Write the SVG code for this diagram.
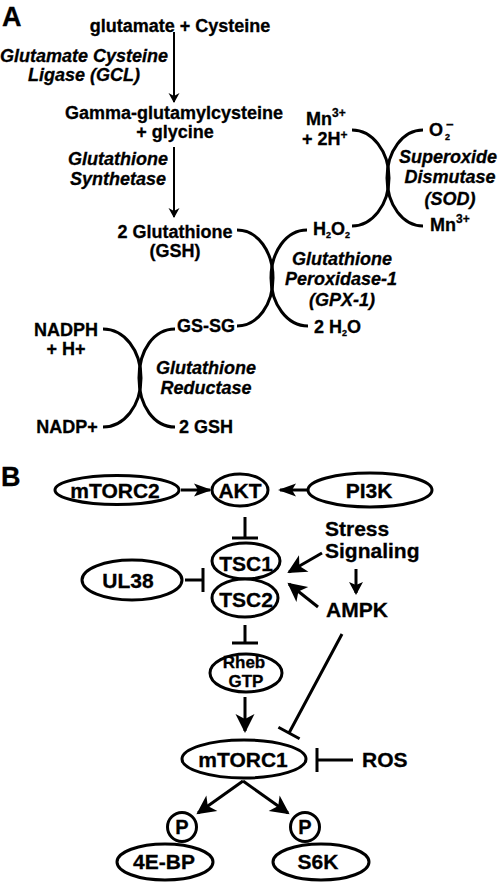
<svg xmlns="http://www.w3.org/2000/svg" width="500" height="883" viewBox="0 0 500 883">
<style>
text{font-family:"Liberation Sans",Arial,Helvetica,sans-serif;font-weight:bold;fill:#000;stroke:#000;stroke-width:0.3}
.a{font-size:18px}
.i{font-style:italic}
.b{font-size:21px}
.L{font-size:27px}
.c{text-anchor:middle}
.ln{stroke:#000;stroke-width:3;fill:none}
.thin{stroke:#000;stroke-width:2;fill:none}
.el{fill:#fff;stroke:#000;stroke-width:3}
</style>
<defs>
<marker id="ha" markerUnits="userSpaceOnUse" viewBox="-12 -7 14 14" refX="0" refY="0" markerWidth="14" markerHeight="14" orient="auto"><path d="M1,0 L-9,-5.5 L-6,0 L-9,5.5 z" fill="#000"/></marker>
<marker id="hb" markerUnits="userSpaceOnUse" viewBox="-20 -11 24 22" refX="0" refY="0" markerWidth="24" markerHeight="22" orient="auto"><path d="M2,0 L-17,-9.5 L-12,0 L-17,9.5 z" fill="#000"/></marker>
<marker id="hs" markerUnits="userSpaceOnUse" viewBox="-20 -8 24 16" refX="0" refY="0" markerWidth="24" markerHeight="16" orient="auto"><path d="M2,0 L-16,-6.5 L-12,0 L-16,6.5 z" fill="#000"/></marker>
<marker id="hm" markerUnits="userSpaceOnUse" viewBox="-16 -8 20 16" refX="0" refY="0" markerWidth="20" markerHeight="16" orient="auto"><path d="M2,0 L-11,-7 L-8,0 L-11,7 z" fill="#000"/></marker>
</defs>

<text class="L" x="2" y="26">A</text>
<text class="L" x="1" y="486">B</text>

<g id="connectors">
<path class="thin" d="M174,32 L174,102" marker-end="url(#ha)"/>
<path class="thin" d="M174,147 L174,217" marker-end="url(#ha)"/>
<path class="ln" d="M237,230 C258,230 273,252 273,278 C273,304 258,326 237,326"/>
<path class="ln" d="M307,230 C286,230 271,252 271,278 C271,304 287,326 308,326"/>
<path class="ln" d="M103,329 C124,329 141,350 141,378 C141,406 124,427 103,427"/>
<path class="ln" d="M175,329 C154,329 139,350 139,378 C139,406 154,427 175,427"/>
<path class="ln" d="M352,130 C372,130 389,151 389,178 C389,205 372,226 352,226"/>
<path class="ln" d="M423,130 C403,130 387,151 387,178 C387,205 403,226 423,226"/>

<path class="ln" d="M181,490 L210,490" marker-end="url(#hs)"/>
<path class="ln" d="M307,490 L280,490" marker-end="url(#hs)"/>
<path class="ln" d="M245,517 L245,538 M232,538 L258,538"/>
<path class="ln" d="M185,580 L203,580 M203,568 L203,592"/>
<path class="ln" d="M322,553 L289,572" marker-end="url(#hb)"/>
<path class="ln" d="M318,607 L289,584" marker-end="url(#hb)"/>
<path class="ln" d="M356,569 L356,593" marker-end="url(#hm)"/>
<path class="ln" d="M245,625 L245,643 M232,643 L258,643"/>
<path class="ln" d="M245,697 L245,731" marker-end="url(#hb)"/>
<path class="ln" d="M342,634 L289,733 M278.4,727.3 L299.6,738.7"/>
<path class="ln" d="M353,760 L317,760 M317,748 L317,772"/>
<path class="ln" d="M243,781 L198,813" marker-end="url(#hb)"/>
<path class="ln" d="M243,781 L288,813" marker-end="url(#hb)"/>
</g>

<g id="glu_cys"><text class="a c" x="180" y="32">glutamate + Cysteine</text></g>
<g id="gcl"><text class="a i c" x="84" y="62">Glutamate Cysteine</text><text class="a i c" x="84" y="81">Ligase (GCL)</text></g>
<g id="gamma"><text class="a c" x="174" y="119">Gamma-glutamylcysteine</text><text class="a c" x="175" y="138">+ glycine</text></g>
<g id="gs"><text class="a i c" x="118" y="165">Glutathione</text><text class="a i c" x="118" y="185">Synthetase</text></g>
<g id="gsh"><text class="a c" x="175" y="238">2 Glutathione</text><text class="a c" x="175" y="257">(GSH)</text></g>
<g id="h2o2"><text class="a" x="313" y="235">H<tspan font-size="9" dy="3">2</tspan><tspan dy="-3">O</tspan><tspan font-size="9" dy="3">2</tspan></text></g>
<g id="gpx"><text class="a i c" x="342" y="265">Glutathione</text><text class="a i c" x="341" y="285">Peroxidase-1</text><text class="a i c" x="342" y="306">(GPX-1)</text></g>
<g id="h2o"><text class="a" x="314" y="333">2 H<tspan font-size="9" dy="3">2</tspan><tspan dy="-3">O</tspan></text></g>
<g id="gssg"><text class="a" x="177" y="332">GS-SG</text></g>
<g id="gsh2"><text class="a" x="179" y="433">2 GSH</text></g>
<g id="nadph"><text class="a c" x="66" y="336">NADPH</text><text class="a c" x="66" y="355">+ H+</text></g>
<g id="nadp"><text class="a c" x="67" y="433">NADP+</text></g>
<g id="gr"><text class="a i c" x="206" y="374">Glutathione</text><text class="a i c" x="206" y="394">Reductase</text></g>
<g id="mn_h"><text class="a" x="306" y="125">Mn<tspan font-size="12" dy="-8">3+</tspan></text><text class="a" x="302" y="145">+ 2H<tspan font-size="12" dy="-6">+</tspan></text></g>
<g id="o2"><text class="a" x="429" y="136">O</text><text style="font-size:9px" x="445" y="140">2</text><text style="font-size:13px" x="446" y="129">−</text></g>
<g id="sod"><text class="a i c" x="448" y="163">Superoxide</text><text class="a i c" x="450" y="183">Dismutase</text><text class="a i c" x="450" y="205">(SOD)</text></g>
<g id="mn3"><text class="a" x="430" y="231">Mn<tspan font-size="12" dy="-8">3+</tspan></text></g>

<g id="mTORC2"><ellipse class="el" cx="117" cy="490" rx="62" ry="14.5"/><text class="b c" x="115" y="498">mTORC2</text></g>
<g id="AKT"><ellipse class="el" cx="240" cy="490" rx="28" ry="16"/><text class="b c" x="240" y="498">AKT</text></g>
<g id="PI3K"><ellipse class="el" cx="370" cy="490" rx="62" ry="17"/><text class="b c" x="369" y="498">PI3K</text></g>
<g id="TSC1"><ellipse class="el" cx="246" cy="561" rx="34" ry="18"/><text class="b c" x="246" y="571">TSC1</text></g>
<g id="TSC2"><ellipse class="el" cx="245" cy="598" rx="33" ry="19"/><text class="b c" x="246" y="607">TSC2</text></g>
<g id="UL38"><ellipse class="el" cx="132" cy="580" rx="50" ry="20"/><text class="b c" x="128" y="588">UL38</text></g>
<g id="stress"><text class="b" x="325" y="536">Stress</text><text class="b" x="325" y="558">Signaling</text></g>
<g id="AMPK"><text class="b c" x="357" y="617">AMPK</text></g>
<g id="Rheb"><ellipse class="el" cx="246" cy="673" rx="36" ry="19"/><text class="c" style="font-size:17px" x="244" y="668">Rheb</text><text class="c" style="font-size:17px" x="246" y="687">GTP</text></g>
<g id="mTORC1"><ellipse class="el" cx="244" cy="759" rx="62" ry="19"/><text class="b c" x="243" y="767">mTORC1</text></g>
<g id="ROS"><text class="b" x="362" y="767">ROS</text></g>
<g id="4EBP"><ellipse class="el" cx="165" cy="862" rx="48" ry="18"/><text class="b c" x="164" y="869">4E-BP</text></g>
<g id="S6K"><ellipse class="el" cx="321" cy="862" rx="48" ry="18"/><text class="b c" x="318" y="869">S6K</text></g>
<g id="P1"><circle class="el" cx="182" cy="827" r="14.5"/><text class="c" style="font-size:20px" x="182" y="834">P</text></g>
<g id="P2"><circle class="el" cx="305" cy="827" r="14.5"/><text class="c" style="font-size:20px" x="305" y="834">P</text></g>
</svg>
